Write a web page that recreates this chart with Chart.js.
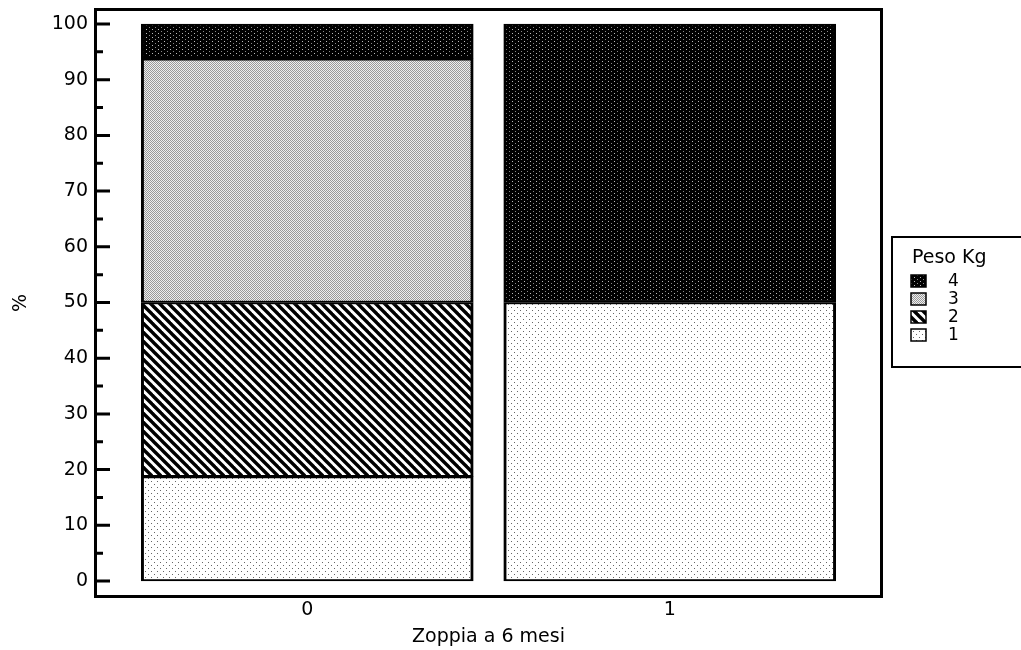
<!DOCTYPE html>
<html>
<head>
<meta charset="utf-8">
<script src="https://cdn.jsdelivr.net/npm/chart.js@4"></script>
<style>
  body { margin: 0; background: #fff; }
</style>
</head>
<body>
<canvas id="grafico-peso" width="1021" height="650"></canvas>
<script>
// dati
const categorie = [0, 1];
const etichetteSerie = ['1', '2', '3', '4'];
const peso1 = [18.75, 50];
const peso2 = [31.25, 0];
const peso3 = [43.75, 0];
const peso4 = [6.25, 50];
const tickY = [0, 10, 20, 30, 40, 50, 60, 70, 80, 90, 100];
const tickYMinori = [5, 15, 25, 35, 45, 55, 65, 75, 85, 95];

// trame in bianco e nero
function trama(w, h, disegna) {
  const c = document.createElement('canvas');
  c.width = w; c.height = h;
  const g = c.getContext('2d');
  disegna(g, w, h);
  return g.createPattern(c, 'repeat');
}
const ctx = document.getElementById('grafico-peso').getContext('2d');

const tramaPunti = trama(6, 6, (g) => {
  g.fillStyle = '#fff'; g.fillRect(0, 0, 6, 6);
  g.fillStyle = '#666'; g.fillRect(1, 1, 1, 1); g.fillRect(4, 4, 1, 1);
});
const tramaRighe = trama(9, 9, (g) => {
  g.fillStyle = '#fff'; g.fillRect(0, 0, 9, 9);
  g.strokeStyle = '#000'; g.lineWidth = 3.4;
  for (let k = -1; k <= 1; k++) {
    g.beginPath(); g.moveTo(9 * k - 3, -3); g.lineTo(9 * k + 12, 12); g.stroke();
  }
});
const tramaGrigia = trama(2, 2, (g) => {
  g.fillStyle = '#eee'; g.fillRect(0, 0, 2, 2);
  g.fillStyle = '#999'; g.fillRect(0, 0, 1, 1); g.fillRect(1, 1, 1, 1);
});
const tramaNera = trama(6, 4, (g) => {
  g.fillStyle = '#000'; g.fillRect(0, 0, 6, 4);
  g.fillStyle = '#bbb'; g.fillRect(2, 1, 1, 1);
  g.fillStyle = '#888'; g.fillRect(5, 3, 1, 1);
});
const trame = [tramaPunti, tramaRighe, tramaGrigia, tramaNera];
const valori = [peso1, peso2, peso3, peso4];

const punti = v => categorie.map((c, i) => ({ x: c, y: v[i] }));

// cornice, tacche interne e legenda
const extra = {
  id: 'extra',
  afterDraw(chart) {
    const c = chart.ctx;
    const a = chart.chartArea;
    const sy = chart.scales.y;
    c.save();
    c.strokeStyle = '#000';
    c.lineWidth = 3;
    c.strokeRect(a.left - 1.5, a.top - 1.5, a.right - a.left + 3, a.bottom - a.top + 3);
    c.beginPath();
    tickY.forEach(v => { const y = sy.getPixelForValue(v); c.moveTo(a.left, y); c.lineTo(a.left + 13, y); });
    tickYMinori.forEach(v => { const y = sy.getPixelForValue(v); c.moveTo(a.left, y); c.lineTo(a.left + 6, y); });
    c.stroke();

    // legenda
    c.lineWidth = 2;
    c.strokeRect(892, 237, 140, 130);
    c.fillStyle = '#000';
    c.font = '19px "DejaVu Sans", sans-serif';
    c.textBaseline = 'middle';
    c.fillText('Peso Kg', 912, 258);
    c.font = '17px "DejaVu Sans", sans-serif';
    const ds = chart.data.datasets.slice().reverse();
    ds.forEach((d, k) => {
      const y = 281 + k * 18;
      c.fillStyle = d.backgroundColor;
      c.fillRect(911, y - 6, 15, 12);
      c.lineWidth = 1.5;
      c.strokeRect(911, y - 6, 15, 12);
      c.fillStyle = '#000';
      c.fillText(d.label, 948, y + 1);
    });
    c.restore();
  }
};

const font = { family: '"DejaVu Sans", sans-serif', size: 19 };

new Chart(ctx, {
  type: 'bar',
  data: {
    datasets: valori.map((v, i) => ({
      label: etichetteSerie[i],
      data: punti(v),
      backgroundColor: trame[i],
      borderColor: '#000',
      borderWidth: { left: 3, right: 3, top: 2, bottom: 2 },
      borderSkipped: false,
      barThickness: 332
    }))
  },
  options: {
    responsive: false,
    animation: false,
    layout: { padding: { top: 11, right: 141, bottom: 0, left: 0 } },
    plugins: { legend: { display: false }, tooltip: { enabled: false } },
    scales: {
      x: {
        type: 'linear',
        offset: false,
        stacked: true,
        min: -0.58,
        max: 1.58,
        grid: { display: false, drawTicks: false },
        border: { display: false },
        afterBuildTicks: s => { s.ticks = categorie.map(v => ({ value: v })); },
        afterFit: s => { s.height = 55; s.paddingLeft = 0; s.paddingRight = 0; },
        ticks: { color: '#000', font, padding: 4, callback: v => String(v) },
        title: { display: true, text: 'Zoppia a 6 mesi', color: '#000', font, padding: { top: 2, bottom: 2 } }
      },
      y: {
        stacked: true,
        min: -2.51,
        max: 102.33,
        grid: { display: false, drawTicks: false },
        border: { display: false },
        afterBuildTicks: s => { s.ticks = tickY.map(v => ({ value: v })); },
        afterFit: s => { s.width = 97; s.paddingTop = 0; s.paddingBottom = 0; },
        ticks: { color: '#000', font, padding: 9 },
        title: { display: true, text: '%', color: '#000', font, padding: { top: 10, bottom: 0 } }
      }
    }
  },
  plugins: [extra]
});
</script>
</body>
</html>
